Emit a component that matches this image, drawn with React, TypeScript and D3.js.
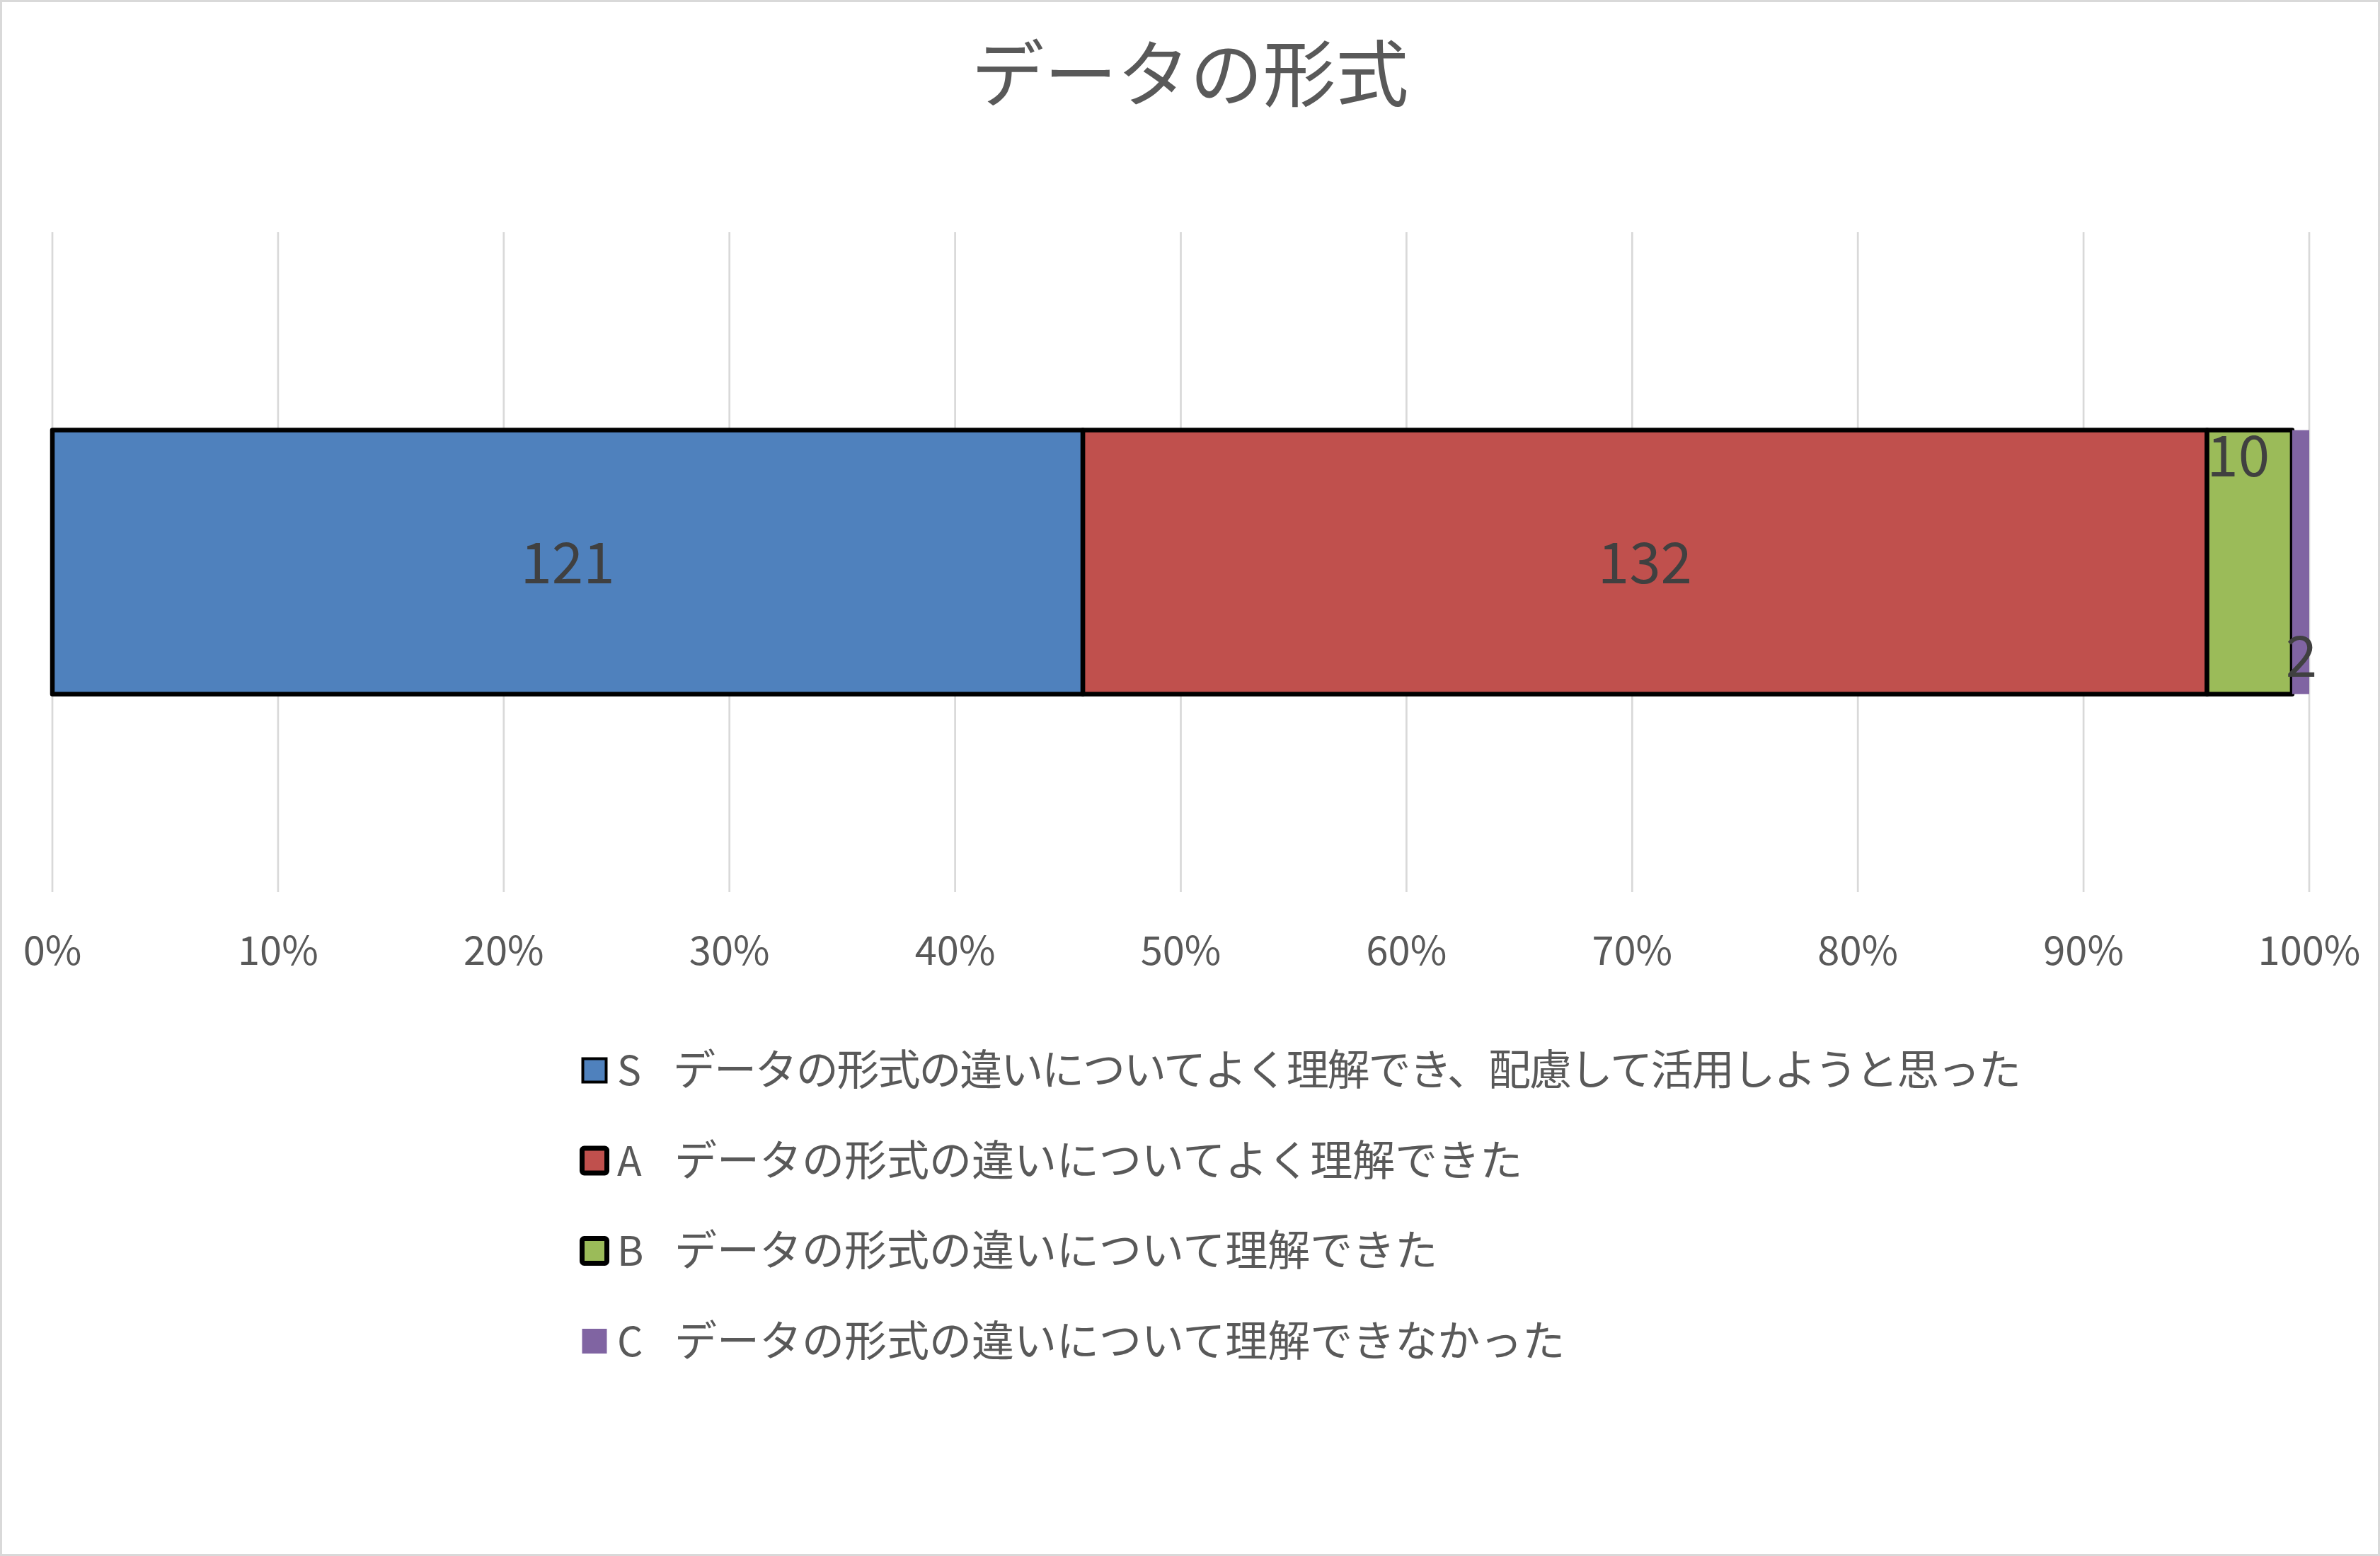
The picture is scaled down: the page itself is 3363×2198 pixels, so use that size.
import React from "react";
import * as d3 from "d3";

const title = "データの形式";
const category = ["データの形式"];
const seriesKeys = ["S", "A", "B", "C"];
const seriesValues = [121, 132, 10, 2];
const seriesDescriptions = [
  "データの形式の違いについてよく理解でき、配慮して活用しようと思った",
  "データの形式の違いについてよく理解できた",
  "データの形式の違いについて理解できた",
  "データの形式の違いについて理解できなかった",
];
const tickValues = [0, 0.1, 0.2, 0.3, 0.4, 0.5, 0.6, 0.7, 0.8, 0.9, 1.0];

const W = 3363;
const H = 2198;
const COLORS = ["#4f81bd", "#c0504d", "#9bbb59", "#8064a2"];
const STROKED = [true, true, true, false];
const FONT = "'Noto Sans CJK JP', 'Noto Sans', sans-serif";

// label placement tweaks (Excel moved small labels to avoid overlap)
const LABEL_NUDGE = [
  { dx: 0, mode: "center" },
  { dx: 0, mode: "center" },
  { dx: -16, mode: "top" },
  { dx: 1, mode: "bottom" },
];

// legend square styling per series
const LEGEND_SWATCH = [
  { size: 33, stroke: 4 },
  { size: 35, stroke: 7 },
  { size: 35, stroke: 7 },
  { size: 35, stroke: 0 },
];
// legend text fitting (the original font sets some kana proportionally)
const LEGEND_TEXT = [
  { x: 951, fit: 1905 },
  { x: 953, fit: 0 },
  { x: 953, fit: 0 },
  { x: 953, fit: 0 },
];

export default function App() {
  const x = d3.scaleLinear().domain([0, 1]).range([74, 3263]);
  const y = d3
    .scaleBand()
    .domain(category)
    .range([328, 1260])
    .paddingInner(0.4286)
    .paddingOuter(0.4286);

  const total = d3.sum(seriesValues);
  const cum = d3.cumsum(seriesValues);
  const segs = seriesValues.map((v, i) => ({
    key: seriesKeys[i],
    value: v,
    x0: (cum[i] - v) / total,
    x1: cum[i] / total,
  }));

  const bandTop = y(category[0]) as number;
  const bw = y.bandwidth();
  const bandBottom = bandTop + bw;
  const bandMid = bandTop + bw / 2;

  const legendTop = 1512;
  const legendStep = 127.5;

  return (
    <div style={{ position: "absolute", left: 0, top: 0, width: W, height: H }}>
      <svg width={W} height={H} style={{ display: "block" }}>
        <rect x={1.5} y={1.5} width={W - 3} height={H - 3} fill="#ffffff" stroke="#d9d9d9" strokeWidth={3} />
        <text
          x={W / 2}
          y={143}
          textAnchor="middle"
          fontFamily={FONT}
          fontSize={103}
          fill="#595959"
        >
          {title}
        </text>

        {tickValues.map((t, i) => (
          <line
            key={"g" + i}
            x1={x(t)}
            x2={x(t)}
            y1={328}
            y2={1260}
            stroke="#d9d9d9"
            strokeWidth={2.7}
          />
        ))}

        {segs.map((s, i) => (
          <rect
            key={"b" + i}
            x={x(s.x0)}
            y={bandTop}
            width={x(s.x1) - x(s.x0)}
            height={bw}
            fill={COLORS[i]}
            stroke={STROKED[i] ? "#000000" : "none"}
            strokeWidth={STROKED[i] ? 6.5 : 0}
            strokeLinejoin="round"
          />
        ))}

        {segs.map((s, i) => {
          const n = LABEL_NUDGE[i];
          const cx = (x(s.x0) + x(s.x1)) / 2 + n.dx;
          let ty = bandMid + 30;
          if (n.mode === "top") ty = bandTop + 65;
          if (n.mode === "bottom") ty = bandBottom - 24;
          return (
            <text
              key={"l" + i}
              x={cx}
              y={ty}
              textAnchor="middle"
              fontFamily={FONT}
              fontSize={80}
              fill="#404040"
            >
              {s.value}
            </text>
          );
        })}

        {tickValues.map((t, i) => (
          <text
            key={"t" + i}
            x={x(t)}
            y={1363}
            textAnchor="middle"
            fontFamily={FONT}
            fontSize={56}
            fill="#595959"
          >
            {d3.format(".0%")(t)}
          </text>
        ))}

        {seriesKeys.map((k, i) => {
          const cy = legendTop + i * legendStep;
          const sw = LEGEND_SWATCH[i];
          const lt = LEGEND_TEXT[i];
          return (
            <g key={"lg" + i}>
              <rect
                x={840 - sw.size / 2}
                y={cy - sw.size / 2}
                width={sw.size}
                height={sw.size}
                fill={COLORS[i]}
                stroke={sw.stroke ? "#000000" : "none"}
                strokeWidth={sw.stroke}
                rx={sw.stroke > 5 ? 3 : 0}
              />
              <text x={872} y={cy + 21} fontFamily={FONT} fontSize={57} fill="#595959">
                {k}
              </text>
              <text
                x={lt.x}
                y={cy + 21}
                fontFamily={FONT}
                fontSize={60}
                fill="#595959"
                {...(lt.fit ? { textLength: lt.fit, lengthAdjust: "spacing" } : {})}
              >
                {seriesDescriptions[i]}
              </text>
            </g>
          );
        })}
      </svg>
    </div>
  );
}
